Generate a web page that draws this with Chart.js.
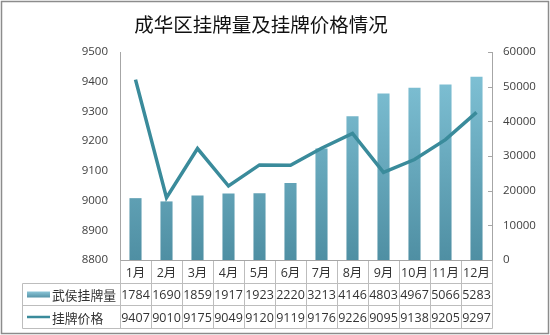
<!DOCTYPE html>
<html>
<head>
<meta charset="utf-8">
<title>成华区挂牌量及挂牌价格情况</title>
<script src="https://cdn.jsdelivr.net/npm/chart.js@4.4.1/dist/chart.umd.min.js"></script>
<style>
    html, body { margin: 0; padding: 0; background: #fff; }
    #wrap { width: 550px; height: 335px; }
</style>
</head>
<body>
<div id="wrap"><canvas id="chart-guapai" width="550" height="335"></canvas></div>
<script>
var titulo = '成华区挂牌量及挂牌价格情况';
var meses = ['1月', '2月', '3月', '4月', '5月', '6月', '7月', '8月', '9月', '10月', '11月', '12月'];
var nombreVolumen = '武侯挂牌量';
var nombrePrecio = '挂牌价格';
// listing volume (right axis)
var volumen = [17840, 16900, 18590, 19170, 19230, 22200, 32130, 41460, 48030, 49670, 50660, 52830];
// listing price (left axis)
var precio = [9407, 9010, 9175, 9049, 9120, 9119, 9176, 9226, 9095, 9138, 9205, 9297];
var ticksPrecio = { min: 8800, max: 9500, step: 100 };
var ticksVolumen = { min: 0, max: 60000, step: 10000 };

var GraficoGuapai = (function () {
    var obj = {};
    var chart = null;

    var fuente = "'Open Sans', 'Noto Sans CJK SC', sans-serif";
    var colorLinea = '#3a8b9b';
    var colorBorde = '#bdbdbd';
    var colorTexto = '#404040';

    obj.init = function () {
        var ctx = document.getElementById('chart-guapai').getContext('2d');

        chart = new Chart(ctx, {
            type: 'bar',
            data: {
                labels: meses,
                datasets: [{
                    type: 'line',
                    label: nombrePrecio,
                    data: precio,
                    yAxisID: 'yPrecio',
                    borderColor: colorLinea,
                    borderWidth: 3.5,
                    pointRadius: 0,
                    tension: 0,
                    fill: false,
                    order: 1
                }, {
                    type: 'bar',
                    label: nombreVolumen,
                    data: volumen,
                    yAxisID: 'yVolumen',
                    backgroundColor: degradadoBarra,
                    borderWidth: 0,
                    categoryPercentage: 1,
                    barPercentage: 0.39,
                    order: 2
                }]
            },
            options: {
                responsive: false,
                animation: false,
                layout: { padding: { top: 52, bottom: 75, left: 0, right: 0 } },
                plugins: {
                    legend: { display: false },
                    tooltip: { enabled: false },
                    title: { display: false }
                },
                scales: {
                    x: { display: false },
                    yPrecio: {
                        position: 'left',
                        min: ticksPrecio.min,
                        max: ticksPrecio.max,
                        afterFit: function (scale) { scale.width = 120; },
                        ticks: {
                            stepSize: ticksPrecio.step,
                            padding: 12,
                            color: colorTexto,
                            font: { family: fuente, size: 11.5 },
                            callback: function (value) { return String(value); }
                        },
                        grid: { display: false, drawTicks: false },
                        border: { display: true, color: '#a6a6a6', width: 1 }
                    },
                    yVolumen: {
                        position: 'right',
                        min: ticksVolumen.min,
                        max: ticksVolumen.max,
                        afterFit: function (scale) { scale.width = 58; },
                        ticks: {
                            stepSize: ticksVolumen.step,
                            padding: 11,
                            color: colorTexto,
                            font: { family: fuente, size: 11.5 },
                            callback: function (value) { return String(value); }
                        },
                        grid: { display: false, drawTicks: false },
                        border: { display: true, color: '#a6a6a6', width: 1 }
                    }
                }
            },
            plugins: [fondo, marcasDerecha, tablaDatos]
        });
    };

    function degradadoBarra(context) {
        var area = context.chart.chartArea;
        if (!area) {
            return '#6aaec3';
        }
        var g = context.chart.ctx.createLinearGradient(0, area.top, 0, area.bottom);
        g.addColorStop(0, '#84c6da');
        g.addColorStop(1, '#4f8fa3');
        return g;
    }

    // white background, frame and title
    var fondo = {
        id: 'fondo',
        beforeDraw: function (c) {
            var ctx = c.ctx;
            ctx.save();
            ctx.fillStyle = '#fff';
            ctx.fillRect(0, 0, c.width, c.height);
            ctx.strokeStyle = '#8c8c8c';
            ctx.lineWidth = 1.5;
            ctx.strokeRect(1.5, 1.5, c.width - 3, c.height - 3);
            ctx.fillStyle = '#111';
            ctx.font = "19.5px 'Noto Sans CJK SC', sans-serif";
            ctx.textAlign = 'center';
            ctx.textBaseline = 'middle';
            ctx.fillText(titulo, 261, 25);
            ctx.restore();
        }
    };

    // short inner tick marks on the right axis
    var marcasDerecha = {
        id: 'marcasDerecha',
        afterDraw: function (c) {
            var esc = c.scales.yVolumen;
            var ctx = c.ctx;
            ctx.save();
            ctx.strokeStyle = '#a6a6a6';
            ctx.lineWidth = 1;
            esc.ticks.forEach(function (t) {
                var y = Math.round(esc.getPixelForValue(t.value)) + 0.5;
                ctx.beginPath();
                ctx.moveTo(esc.left - 4, y);
                ctx.lineTo(esc.left, y);
                ctx.stroke();
            });
            ctx.restore();
        }
    };

    // data table under the plot
    var tablaDatos = {
        id: 'tablaDatos',
        afterDraw: function (c) {
            var ctx = c.ctx;
            var area = c.chartArea;
            var x = c.scales.x;
            var ancho = (area.right - area.left) / meses.length;
            var izq = Math.round(area.left) + 0.5;
            var der = Math.round(area.right) + 0.5;
            var leyendaIzq = 22.5;
            var filas = [Math.round(area.bottom) + 0.5, 283.5, 305.5, 328.5];

            ctx.save();
            ctx.strokeStyle = colorBorde;
            ctx.lineWidth = 1;

            // horizontal lines
            ctx.beginPath();
            ctx.moveTo(izq, filas[0]);
            ctx.lineTo(der, filas[0]);
            for (var r = 1; r < filas.length; r++) {
                ctx.moveTo(leyendaIzq, filas[r]);
                ctx.lineTo(der, filas[r]);
            }
            // vertical lines
            ctx.moveTo(leyendaIzq, filas[1]);
            ctx.lineTo(leyendaIzq, filas[3]);
            for (var i = 0; i <= meses.length; i++) {
                var xv = Math.round(area.left + i * ancho) + 0.5;
                ctx.moveTo(xv, filas[0]);
                ctx.lineTo(xv, filas[3]);
            }
            ctx.stroke();

            // the axis line along the top of the table
            ctx.strokeStyle = '#a6a6a6';
            ctx.beginPath();
            ctx.moveTo(izq, filas[0]);
            ctx.lineTo(der, filas[0]);
            ctx.stroke();

            // cell text
            ctx.fillStyle = '#333';
            ctx.textAlign = 'center';
            ctx.textBaseline = 'middle';
            ctx.font = '12.5px ' + fuente;
            meses.forEach(function (m, i) {
                var cx = x.getPixelForValue(i);
                ctx.fillText(m, cx, (filas[0] + filas[1]) / 2 + 1);
                ctx.fillText(textoCelda(volumen[i]), cx, (filas[1] + filas[2]) / 2 + 1);
                ctx.fillText(textoCelda(precio[i]), cx, (filas[2] + filas[3]) / 2 + 1);
            });

            // legend keys
            var y1 = (filas[1] + filas[2]) / 2;
            var y2 = (filas[2] + filas[3]) / 2;
            var g = ctx.createLinearGradient(0, y1 - 3, 0, y1 + 3);
            g.addColorStop(0, '#8cc6d8');
            g.addColorStop(1, '#5593a7');
            ctx.fillStyle = g;
            ctx.fillRect(27, y1 - 3, 23, 6);

            ctx.strokeStyle = colorLinea;
            ctx.lineWidth = 2.5;
            ctx.beginPath();
            ctx.moveTo(27, y2);
            ctx.lineTo(50, y2);
            ctx.stroke();

            ctx.fillStyle = '#333';
            ctx.textAlign = 'left';
            ctx.font = "12.8px 'Noto Sans CJK SC', sans-serif";
            ctx.fillText(nombreVolumen, 52, y1 + 1);
            ctx.fillText(nombrePrecio, 52, y2 + 1);
            ctx.restore();
        }
    };

    // the narrow cells only fit four characters
    function textoCelda(v) {
        return String(v).slice(0, 4);
    }

    return obj;
}());

GraficoGuapai.init();
</script>
</body>
</html>
